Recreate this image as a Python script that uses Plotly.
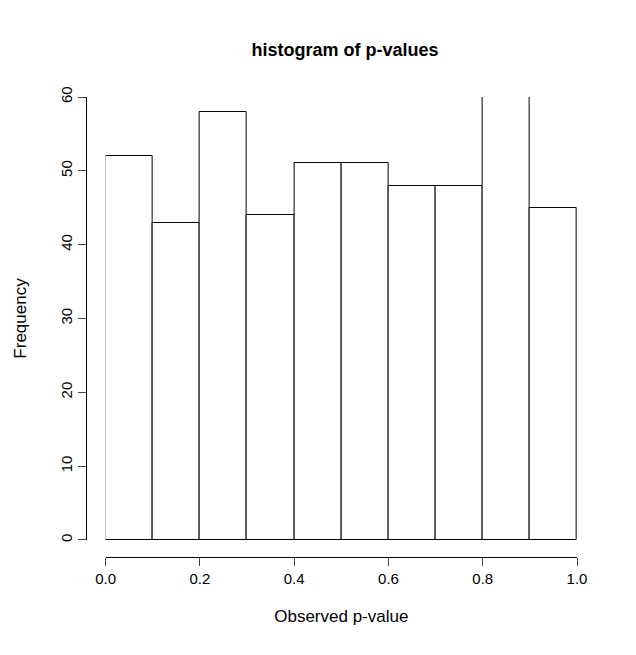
import plotly.graph_objects as go

bin_left = [0.0, 0.1, 0.2, 0.3, 0.4, 0.5, 0.6, 0.7, 0.8, 0.9]
counts = [52, 43, 58, 44, 51, 51, 48, 48, 60, 45]
x_ticks = [0.0, 0.2, 0.4, 0.6, 0.8, 1.0]
x_tick_labels = ["0.0", "0.2", "0.4", "0.6", "0.8", "1.0"]
y_ticks = [0, 10, 20, 30, 40, 50, 60]

font = dict(family="Liberation Sans, Arial, sans-serif", color="black", size=14)

fig = go.Figure(go.Bar(
    x=[b + 0.05 for b in bin_left], y=counts, width=0.1, cliponaxis=False,
    marker=dict(color="white", line=dict(color="black", width=1)),
))

fig.update_layout(
    width=636, height=655,
    margin=dict(l=71, r=67, t=89, b=106),
    plot_bgcolor="white", paper_bgcolor="white",
    font=font, showlegend=False, bargap=0,
    title=dict(text="<b>histogram of p-values</b>", x=0.53, xanchor="center",
               y=0.937, yanchor="middle", font=dict(size=18, family=font["family"])),
    xaxis=dict(domain=[0.04, 1], range=[0, 1], anchor="free", position=0,
               tickvals=x_ticks, ticktext=x_tick_labels, ticks="outside", ticklen=8,
               tickfont=dict(size=15),
               showline=True, linecolor="black", showgrid=False, zeroline=False,
               title=dict(text="Observed p-value", standoff=24)),
    yaxis=dict(domain=[0.037, 1], range=[0, 60], anchor="free", position=0,
               tickvals=y_ticks, ticks="outside", ticklen=8, tickangle=-90,
               tickfont=dict(size=15),
               showline=True, linecolor="black", showgrid=False, zeroline=False,
               title=dict(text="Frequency", standoff=26)),
)

fig.write_html("out.html")
